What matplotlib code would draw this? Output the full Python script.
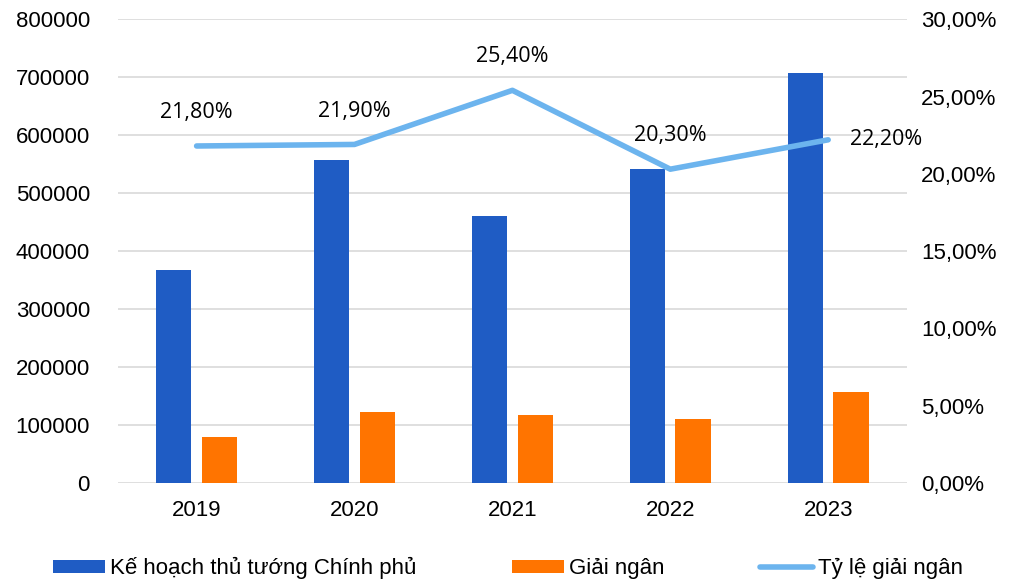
import matplotlib
matplotlib.use("Agg")
from matplotlib import pyplot as plt
from matplotlib.ticker import FuncFormatter
import numpy as np

years = ["2019", "2020", "2021", "2022", "2023"]
ke_hoach = [367000, 558000, 461000, 541000, 707000]
giai_ngan = [80000, 123000, 117000, 110000, 157000]
ty_le = [21.8, 21.9, 25.4, 20.3, 22.2]
ty_le_labels = ["21,80%", "21,90%", "25,40%", "20,30%", "22,20%"]

plt.rcParams['font.family'] = ['Liberation Sans', 'DejaVu Sans']

fig = plt.figure(figsize=(10.32, 5.82), dpi=100)
ax = fig.add_axes([0.114, 0.170, 0.765, 0.797])
x = np.arange(len(years))
w = 0.225
ax.bar(x - 0.145, ke_hoach, w, color="#1F5CC4", label="Kế hoạch thủ tướng Chính phủ", zorder=3)
ax.bar(x + 0.145, giai_ngan, w, color="#FF7400", label="Giải ngân", zorder=3)
ax.set_ylim(0, 800000)
ax.set_yticks(range(0, 800001, 100000))
ax.set_xlim(-0.5, 4.5)
ax.set_xticks(x)
ax.set_xticklabels(years)
ax.grid(axis="y", color="#D9D9D9", linewidth=1.2, zorder=0)
for s in ax.spines.values():
    s.set_visible(False)
ax.tick_params(length=0, labelsize=16, colors="black")
ax.tick_params(axis="y", pad=20)
ax.tick_params(axis="x", pad=12)

ax2 = ax.twinx()
ax2.plot(x, ty_le, color="#6CB4EE", linewidth=4, solid_capstyle="round",
         label="Tỷ lệ giải ngân", zorder=4)
ax2.set_ylim(0, 30)
ax2.set_yticks(range(0, 31, 5))
ax2.yaxis.set_major_formatter(FuncFormatter(lambda v, p: f"{v:.2f}%".replace(".", ",")))
for s in ax2.spines.values():
    s.set_visible(False)
ax2.tick_params(length=0, labelsize=16, pad=10)

offsets = [(0, 24), (0, 24), (0, 24), (0, 24), (42, 0)]
for i, lab in enumerate(ty_le_labels):
    dx, dy = offsets[i]
    ax2.annotate(lab, (x[i], ty_le[i]), xytext=(dx, dy), textcoords="offset points",
                 ha="center", va="center", fontsize=15.5, family=["Open Sans", "DejaVu Sans"])

h1, l1 = ax.get_legend_handles_labels()
h2, l2 = ax2.get_legend_handles_labels()
fig.legend(h1 + h2, l1 + l2, loc="center left", bbox_to_anchor=(0.051, 0.024), ncol=3,
           frameon=False, handlelength=2.35, handleheight=0.5, handletextpad=0.23,
           borderpad=0, borderaxespad=0, columnspacing=4.3,
           prop={"family": ["Liberation Sans Narrow", "Liberation Sans", "DejaVu Sans"], "size": 16})

fig.savefig("out.png", dpi=100)
